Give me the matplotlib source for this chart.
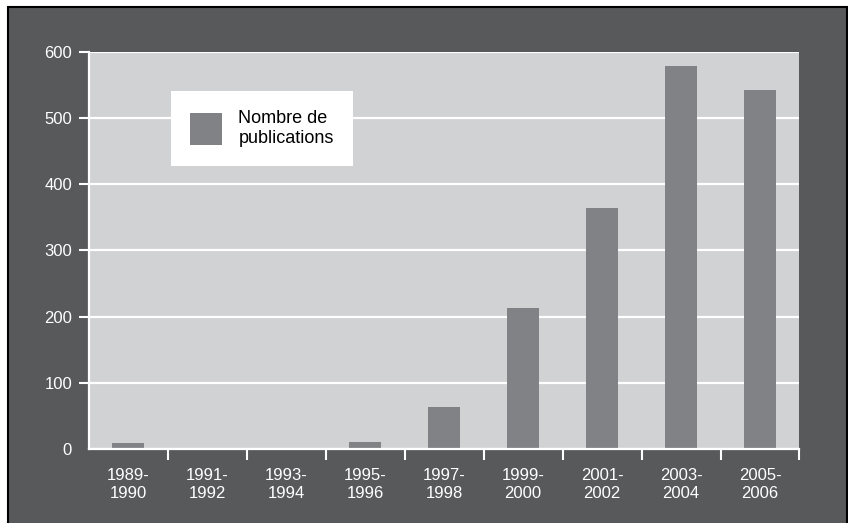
import matplotlib
matplotlib.use('Agg')
import matplotlib.pyplot as plt
from matplotlib.patches import Rectangle
import numpy as np

periods = ['1989-\n1990', '1991-\n1992', '1993-\n1994', '1995-\n1996', '1997-\n1998',
           '1999-\n2000', '2001-\n2002', '2003-\n2004', '2005-\n2006']
publications = [9, 0, 0, 10, 63, 213, 364, 579, 542]
y_ticks = [0, 100, 200, 300, 400, 500, 600]

dark = '#58595b'
plot_bg = '#d1d2d4'
bar_col = '#808285'

plt.rcParams.update({
    'font.family': ['Liberation Sans', 'DejaVu Sans'],
    'font.size': 12,
})

fig = plt.figure(figsize=(8.48, 5.23), dpi=100, facecolor='white')
# dark frame behind the chart
fig.patches.append(Rectangle((8 / 848, -0.01), 839 / 848, 1.01 - 7 / 523,
                             transform=fig.transFigure, facecolor=dark,
                             edgecolor='black', linewidth=1.5, zorder=-1))

ax = fig.add_axes([0.1046, 0.1415, 0.8382, 0.7591])
ax.set_facecolor(plot_bg)

x = np.arange(len(periods))
ax.bar(x, publications, width=0.405, color=bar_col, label='Nombre de\npublications', zorder=3)

ax.set_xlim(-0.5, len(periods) - 0.5)
ax.set_ylim(0, 600)
ax.set_yticks(y_ticks)
ax.yaxis.grid(True, color='white', linewidth=1.6)
ax.set_axisbelow(True)

ax.set_xticks(x)
ax.set_xticklabels(periods, color='white', linespacing=1.2)
ax.set_xticks(np.arange(0.5, len(periods), 1), minor=True)
ax.tick_params(axis='x', which='major', length=0, pad=14)
ax.tick_params(axis='x', which='minor', length=8, width=1.5, color='white', direction='out')
ax.tick_params(axis='y', length=7, width=1.5, color='white', labelcolor='white', pad=5)
ax.yaxis.get_major_ticks()[0].tick1line.set_visible(False)

for side in ['top', 'right']:
    ax.spines[side].set_visible(False)
for side in ['left', 'bottom']:
    ax.spines[side].set_color('white')
    ax.spines[side].set_linewidth(1.6)
    ax.spines[side].set_zorder(4)

leg = ax.legend(loc='upper left', bbox_to_anchor=(171 / 848, 1 - 91 / 523),
                bbox_transform=fig.transFigure, frameon=True, fancybox=False,
                framealpha=1, edgecolor='white', facecolor='white',
                prop={'family': ['Liberation Sans Narrow', 'Liberation Sans'], 'size': 13},
                handlelength=1.78, handleheight=2.36, handletextpad=0.9,
                borderpad=1.05, borderaxespad=0, labelspacing=0.2)
leg.get_frame().set_linewidth(0)

fig.savefig('out.png', dpi=100, facecolor='white')
